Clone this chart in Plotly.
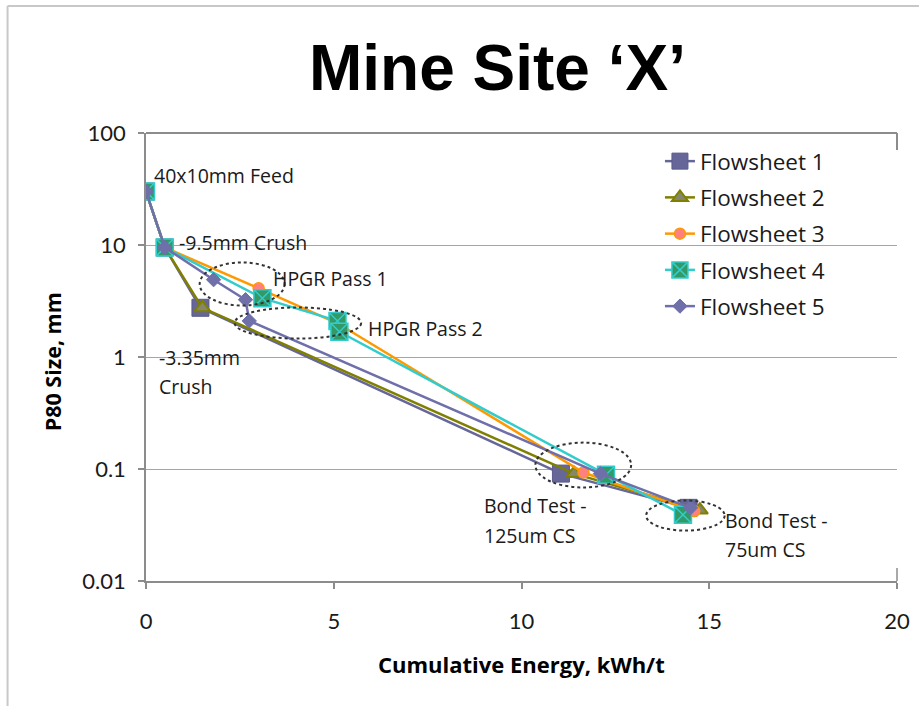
import plotly.graph_objects as go

# Cumulative specific energy (kWh/t) and P80 size (mm) for each flowsheet
fs1_energy = [0.0, 0.5, 1.45, 11.05, 14.45]
fs1_p80 = [30, 9.5, 2.75, 0.091, 0.045]

fs2_energy = [0.0, 0.5, 1.5, 11.4, 14.75]
fs2_p80 = [30, 9.5, 2.75, 0.091, 0.043]

fs3_energy = [0.0, 0.5, 3.0, 5.1, 11.65, 14.6]
fs3_p80 = [30, 9.5, 4.1, 2.0, 0.093, 0.042]

fs4_energy = [0.0, 0.5, 3.1, 5.1, 5.15, 12.25, 14.3]
fs4_p80 = [30, 9.5, 3.35, 2.1, 1.68, 0.089, 0.039]

fs5_energy = [0.0, 0.5, 1.8, 2.65, 2.75, 12.1, 14.5]
fs5_p80 = [30, 9.5, 4.9, 3.25, 2.1, 0.091, 0.045]

series_names = ["Flowsheet 1", "Flowsheet 2", "Flowsheet 3", "Flowsheet 4", "Flowsheet 5"]
y_tickvals = [0.01, 0.1, 1, 10, 100]
y_ticktext = ["0.01", "0.1", "1", "10", "100"]
x_tickvals = [0, 5, 10, 15, 20]

FONT = "Open Sans"
TICK_FONT = "Lato"
W, H = 922, 706
ML, MR, MT, MB = 146, 22, 133, 125
PW, PH = W - ML - MR, H - MT - MB


def px(xp):
    return (xp - ML) / PW


def py(yp):
    return (H - MB - yp) / PH


fig = go.Figure()

styles = [
    dict(line=dict(color="#666699", width=2.5),
         marker=dict(symbol="square", size=17, color="#666699",
                     line=dict(color="#5a5a8c", width=1))),
    dict(line=dict(color="#808000", width=2.5),
         marker=dict(symbol="triangle-up", size=14, color="#86866a",
                     line=dict(color="#808000", width=2))),
    dict(line=dict(color="#FF9900", width=2.5),
         marker=dict(symbol="circle", size=11, color="#FF8080",
                     line=dict(color="#FF9900", width=1.5))),
    dict(line=dict(color="#33CCCC", width=2.5),
         marker=dict(symbol="square-x", size=17, color="#339966",
                     line=dict(color="#33CCCC", width=1.5))),
    dict(line=dict(color="#6F6FAA", width=2.5),
         marker=dict(symbol="diamond", size=11, color="#6F6FAA",
                     line=dict(color="#6F6FAA", width=1))),
]
series = [
    (fs1_energy, fs1_p80),
    (fs2_energy, fs2_p80),
    (fs3_energy, fs3_p80),
    (fs4_energy, fs4_p80),
    (fs5_energy, fs5_p80),
]
for name, (xs, ys), st in zip(series_names, series, styles):
    fig.add_trace(go.Scatter(x=xs, y=ys, mode="lines+markers", name=name,
                             legendgroup=name, **st))

shapes = []
# dotted ellipses around the process stages (data coordinates)
ellipses = [
    (1.43, 3.69, 2.88, 6.98),
    (2.36, 5.73, 1.46, 2.77),
    (10.37, 12.92, 0.0684, 0.172),
    (13.32, 15.41, 0.0282, 0.0523),
]
for x0, x1, y0, y1 in ellipses:
    shapes.append(dict(type="circle", xref="x", yref="y", x0=x0, x1=x1, y0=y0, y1=y1,
                       line=dict(color="#333333", width=2, dash="dot"), layer="above"))

# white panel behind the legend
shapes.append(dict(type="rect", xref="paper", yref="paper", x0=px(574), x1=px(899),
                   y0=py(340), y1=py(140), fillcolor="white", line=dict(width=0),
                   layer="between"))
# top border of the plot area and short right-hand stubs
shapes.append(dict(type="line", xref="paper", yref="paper", x0=0, x1=1, y0=1, y1=1,
                   line=dict(color="#8c8c8c", width=2)))
shapes.append(dict(type="line", xref="paper", yref="paper", x0=1, x1=1, y0=1, y1=py(150),
                   line=dict(color="#8c8c8c", width=2)))
shapes.append(dict(type="line", xref="paper", yref="paper", x0=1, x1=1, y0=0, y1=py(568),
                   line=dict(color="#8c8c8c", width=1.5)))
# slide frame
shapes.append(dict(type="line", xref="paper", yref="paper", x0=px(7), x1=px(922),
                   y0=py(6), y1=py(6), line=dict(color="#c8c8c8", width=2)))
shapes.append(dict(type="line", xref="paper", yref="paper", x0=px(7), x1=px(7),
                   y0=py(6), y1=py(706), line=dict(color="#c8c8c8", width=2)))

annotations = []
labels = [
    ("40x10mm Feed", 0.16, 1.62),
    ("-9.5mm Crush", 0.83, 1.02),
    ("HPGR Pass 1", 3.32, 0.70),
    ("HPGR Pass 2", 5.87, 0.254),
    ("-3.35mm", 0.30, -0.005),
    ("Crush", 0.30, -0.265),
    ("Bond Test -", 8.95, -1.325),
    ("125um CS", 8.95, -1.595),
    ("Bond Test -", 15.36, -1.46),
    ("75um CS", 15.36, -1.72),
]
for text, ax_x, ax_y in labels:
    annotations.append(dict(text=text, x=ax_x, y=ax_y, xref="x", yref="y",
                            xanchor="left", yanchor="middle", showarrow=False,
                            font=dict(family=FONT, size=19.5, color="#1a1a1a")))

annotations.append(dict(text="<b>Mine Site \u2018X\u2019</b>", x=px(499), y=py(68),
                        xref="paper", yref="paper", xanchor="center", yanchor="middle",
                        showarrow=False,
                        font=dict(family="Liberation Sans", size=64, color="#000000")))
annotations.append(dict(text="<b>P80 Size, mm</b>", x=px(52), y=py(362),
                        xref="paper", yref="paper", xanchor="center", yanchor="middle",
                        textangle=-90, showarrow=False,
                        font=dict(family=FONT, size=21.5, color="#000000")))
annotations.append(dict(text="<b>Cumulative Energy, kWh/t</b>", x=px(523), y=py(664),
                        xref="paper", yref="paper", xanchor="center", yanchor="middle",
                        showarrow=False,
                        font=dict(family=FONT, size=22, color="#000000")))

fig.update_layout(
    width=W, height=H,
    margin=dict(l=ML, r=MR, t=MT, b=MB),
    paper_bgcolor="white", plot_bgcolor="white",
    showlegend=True,
    legend=dict(x=px(662), y=py(140), xanchor="left", yanchor="top",
                bgcolor="rgba(0,0,0,0)", borderwidth=0, tracegroupgap=4,
                font=dict(family=FONT, size=22.5, color="#1a1a1a")),
    shapes=shapes,
    annotations=annotations,
)
fig.update_xaxes(range=[0, 20], tickvals=x_tickvals, showgrid=False, zeroline=False,
                 showline=True, linecolor="#8c8c8c", linewidth=1.5,
                 ticks="outside", ticklen=6, tickcolor="#8c8c8c", tickwidth=1.5,
                 tickfont=dict(family=TICK_FONT, size=22, color="#1a1a1a"), ticklabelstandoff=14)
fig.update_yaxes(type="log", range=[-2, 2], tickvals=y_tickvals, ticktext=y_ticktext,
                 showgrid=True, gridcolor="#a6a6a6", gridwidth=1, zeroline=False,
                 showline=True, linecolor="#8c8c8c", linewidth=1.5,
                 ticks="outside", ticklen=6, tickcolor="#8c8c8c", tickwidth=1.5,
                 tickfont=dict(family=TICK_FONT, size=22, color="#1a1a1a"), ticklabelstandoff=8)

fig.write_html("out.html")
